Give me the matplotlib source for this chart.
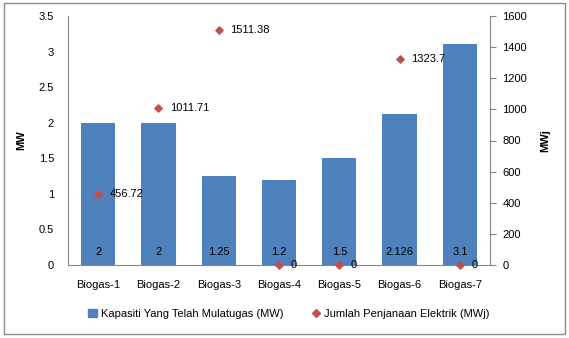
import matplotlib
matplotlib.use("Agg")
import matplotlib.pyplot as plt
from matplotlib.patches import Rectangle
from matplotlib.lines import Line2D

categories = ["Biogas-1", "Biogas-2", "Biogas-3", "Biogas-4", "Biogas-5", "Biogas-6", "Biogas-7"]
capacity_mw = [2, 2, 1.25, 1.2, 1.5, 2.126, 3.1]
energy_mwj = [456.72, 1011.71, 1511.38, 0, 0, 1323.7, 0]
capacity_labels = ["2", "2", "1.25", "1.2", "1.5", "2.126", "3.1"]
energy_labels = ["456.72", "1011.71", "1511.38", "0", "0", "1323.7", "0"]

bar_color = "#4F81BD"
marker_color = "#C0504D"
plt.rcParams["font.family"] = ["Liberation Sans", "DejaVu Sans"]
fs = 8.0

fig = plt.figure(figsize=(5.69, 3.38), dpi=100)
fig.patch.set_facecolor("white")

# outer frame around the whole chart
fig.add_artist(Rectangle((4 / 569, 1 - 334 / 338), 561 / 569, 331 / 338,
                         transform=fig.transFigure, fill=False,
                         edgecolor="#8C8C8C", linewidth=1.0))

ax = fig.add_axes([68 / 569, 1 - 265 / 338, 422 / 569, 249 / 338])
ax2 = ax.twinx()

x = list(range(len(categories)))
ax.bar(x, capacity_mw, width=0.57, color=bar_color, zorder=2)
ax.set_xlim(-0.5, len(categories) - 0.5)
ax.set_ylim(0, 3.5)
ax.set_yticks([0, 0.5, 1, 1.5, 2, 2.5, 3, 3.5])
ax.set_yticklabels(["0", "0.5", "1", "1.5", "2", "2.5", "3", "3.5"])
ax.set_xticks(x)
ax.set_xticklabels(categories)
ax.tick_params(axis="both", length=0, labelsize=fs, colors="black")
ax.tick_params(axis="x", pad=11)
ax.tick_params(axis="y", pad=10)
for s in ["top", "right"]:
    ax.spines[s].set_visible(False)
ax.spines["left"].set_color("#868686")
ax.spines["bottom"].set_color("#868686")
ax.set_ylabel("MW", fontsize=fs, fontweight="bold")
ax.yaxis.set_label_coords((26 - 68) / 422, 0.5)

for xi, v, lab in zip(x, capacity_mw, capacity_labels):
    ax.text(xi, 0.18, lab, ha="center", va="center", fontsize=fs, color="black", zorder=3)

ax2.scatter(x, energy_mwj, marker="D", s=14, color=marker_color, zorder=4, clip_on=False)
ax2.set_ylim(0, 1600)
ax2.set_yticks(range(0, 1601, 200))
ax2.tick_params(axis="y", length=4, direction="out", labelsize=fs, color="#868686", pad=5)
for s in ["top", "left", "bottom"]:
    ax2.spines[s].set_visible(False)
ax2.spines["right"].set_color("#868686")
ax2.set_ylabel("MWj", fontsize=fs, fontweight="bold", rotation=90)
ax2.yaxis.set_label_coords((540 - 68) / 422, 0.5)

for xi, v, lab in zip(x, energy_mwj, energy_labels):
    ax2.annotate(lab, (xi, v), xytext=(8.5, 0), textcoords="offset points",
                 ha="left", va="center", fontsize=fs, color="black", zorder=5,
                 annotation_clip=False)

handles = [Rectangle((0, 0), 1, 1, color=bar_color),
           Line2D([], [], marker="D", linestyle="none", color=marker_color, markersize=4)]
fig.legend(handles, ["Kapasiti Yang Telah Mulatugas (MW)", "Jumlah Penjanaan Elektrik (MWj)"],
           loc="center", bbox_to_anchor=(289 / 569, 1 - 314 / 338), ncol=2, frameon=False,
           fontsize=fs, handlelength=0.8, handleheight=0.8, handletextpad=0.3,
           columnspacing=2.6)

fig.savefig("out.png", dpi=100, facecolor="white")
